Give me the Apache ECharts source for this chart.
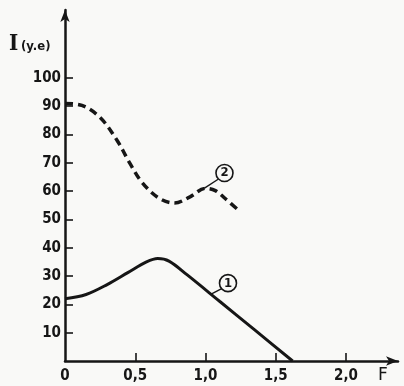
<!DOCTYPE html>
<html>
<head>
<meta charset="utf-8">
<script src="https://cdn.jsdelivr.net/npm/echarts@6/dist/echarts.min.js"></script>
<style>
html,body{margin:0;padding:0;background:#f9f9f7;}
</style>
</head>
<body>
<div id="chart" style="width: 404px;height:386px;"></div>
<script>

// values (F, I)
var curve1 = [[0,22],[0.15,23.5],[0.3,27],[0.45,31.3],[0.58,35],[0.66,36.2],[0.74,35.3],[0.87,30.4],[1.1,21.1],[1.35,11],[1.62,0]];
var curve2 = [[0,91],[0.12,90.3],[0.25,86],[0.37,78],[0.46,70],[0.55,63],[0.67,57.5],[0.78,55.8],[0.89,58],[1.0,61],[1.07,60.2],[1.14,57.4],[1.24,53]];
var yTicks = [10,20,30,40,50,60,70,80,90,100];
var xTicks = [0,0.5,1,1.5,2];
var label1 = {coord:[1.16,27.5], from:[1.04,23.6], to:[1.115,25.6], text:'1'};
var label2 = {coord:[1.135,66.4], from:[0.99,61], to:[1.09,64.2], text:'2'};

var ink = '#161616';
var chart = echarts.init(document.getElementById('chart'));

function marks(lb){
	return {
		markPoint: {
			symbol: 'circle',
			symbolSize: 17,
			silent: true,
			itemStyle: {color:'#f9f9f7', borderColor: ink, borderWidth: 1.6},
			label: {show:true, formatter: lb.text, color: ink, fontSize: 13, fontWeight:'bold', fontFamily:'DejaVu Sans Condensed'},
			data: [{coord: lb.coord}]
		},
		markLine: {
			symbol: ['none','none'],
			silent: true,
			label: {show:false},
			lineStyle: {color: ink, width: 1.4, type:'solid'},
			data: [[{coord: lb.from},{coord: lb.to}]]
		}
	};
}

var s1 = {
	name: '1', type: 'line', data: curve1, smooth: 0.35,
	symbol: 'none', lineStyle: {color: ink, width: 3}
};
var s2 = {
	name: '2', type: 'line', data: curve2, smooth: 0.35,
	symbol: 'none', lineStyle: {color: ink, width: 3.5, type: [8,5]}
};
Object.assign(s1, marks(label1));
Object.assign(s2, marks(label2));

chart.setOption({
	animation: false,
	backgroundColor: '#f9f9f7',
	grid: {left: 65, right: 6, top: 10, bottom: 25},
	xAxis: {
		type: 'value', min: 0, max: 2.37, interval: 0.5,
		axisLine: {lineStyle:{color: ink, width: 2.5}, symbol:['none','arrow'], symbolSize:[7,12]},
		axisTick: {show:true, inside:true, length:8, lineStyle:{color: ink, width:1.6}, customValues: [0.5,1,1.5,2]},
		axisLabel: {
			customValues: xTicks, margin: 8, color: ink, fontSize: 15, fontWeight:'bold', fontFamily:'DejaVu Sans Condensed',
			formatter: function(v){ return v === 0 ? '0' : v.toFixed(1).replace('.', ','); }
		},
		splitLine: {show:false}
	},
	yAxis: {
		type: 'value', min: 0, max: 124, interval: 10,
		axisLine: {show:true, lineStyle:{color: ink, width: 2.5}, symbol:['none','arrow'], symbolSize:[7,12]},
		axisTick: {show:true, inside:true, length:8, lineStyle:{color: ink, width:1.6}, customValues: yTicks},
		axisLabel: {customValues: yTicks, margin: 4, color: ink, fontSize: 15, fontWeight:'bold', fontFamily:'DejaVu Sans Condensed'},
		splitLine: {show:false}
	},
	graphic: [
		{type:'text', left: 9, top: 33, style:{text:'I', font:'bold 22px "DejaVu Serif Condensed", "DejaVu Serif"', fill: ink}},
		{type:'text', left: 21, top: 40, style:{text:'(y.e)', font:'bold 13px "DejaVu Sans Condensed"', fill: ink}},
		{type:'text', left: 378, top: 367, style:{text:'F', font:'17px "DejaVu Sans"', fill: ink}}
	],
	series: [s1, s2]
});

</script>
</body>
</html>
